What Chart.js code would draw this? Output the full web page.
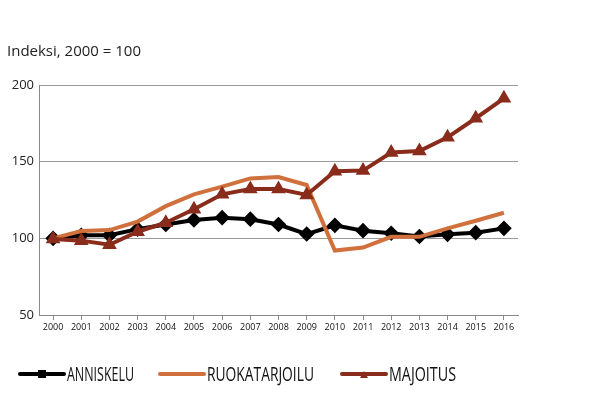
<!DOCTYPE html>
<html>
<head>
<meta charset="utf-8">
<script src="https://cdn.jsdelivr.net/npm/chart.js@4/dist/chart.umd.min.js"></script>
<style>
  html, body { margin: 0; padding: 0; background: #fff; }
  #wrap { width: 600px; height: 396px; position: relative; }
</style>
</head>
<body>
<div id="wrap"><canvas id="chart" width="600" height="396"></canvas></div>
<script>
var years = ['2000','2001','2002','2003','2004','2005','2006','2007','2008','2009','2010','2011','2012','2013','2014','2015','2016'];
var anniskelu = [100, 102, 102, 106, 109, 112, 113.5, 112.5, 109, 102.8, 108.5, 105, 103.3, 101.2, 102.6, 103.7, 106.5];
var ruokatarjoilu = [100, 104.8, 105.4, 110.9, 121, 128.7, 133.7, 139.1, 140, 134.8, 92, 94, 101, 101, 106.5, 111.5, 116.7];
var majoitus = [99.5, 98.5, 95.8, 104.3, 110.2, 119, 128.7, 132.2, 132.2, 128.3, 143.8, 144.2, 156, 157, 165.9, 178.3, 191.3];

var titleText = 'Indeksi, 2000 = 100';
var legendItems = [
  { label: 'ANNISKELU', color: '#000000', marker: 'square', x: 20, w: 67 },
  { label: 'RUOKATARJOILU', color: '#d0703c', marker: null, x: 160, w: 107 },
  { label: 'MAJOITUS', color: '#8a2c1c', marker: 'triangle', x: 342, w: 67 }
];

// title and legend drawn by hand to match the original layout
var extras = {
  id: 'extras',
  afterDraw: function (chart) {
    var ctx = chart.ctx;
    ctx.save();
    ctx.fillStyle = '#222';
    ctx.font = '15px "Open Sans"';
    ctx.textBaseline = 'middle';
    ctx.fillText(titleText, 7, 52);

    var y = 374;
    legendItems.forEach(function (it) {
      ctx.strokeStyle = it.color;
      ctx.lineWidth = 4;
      ctx.lineCap = 'round';
      ctx.beginPath();
      ctx.moveTo(it.x, y);
      ctx.lineTo(it.x + 44, y);
      ctx.stroke();
      ctx.fillStyle = it.color;
      if (it.marker == 'square') {
        ctx.fillRect(it.x + 18, y - 4, 8, 8);
      } else if (it.marker == 'triangle') {
        ctx.beginPath();
        ctx.moveTo(it.x + 22, y - 3);
        ctx.lineTo(it.x + 26, y + 4);
        ctx.lineTo(it.x + 18, y + 4);
        ctx.fill();
      }
      // narrow the text to the width used in the original
      ctx.fillStyle = '#111';
      ctx.font = '20px "Open Sans"';
      var tw = ctx.measureText(it.label).width;
      ctx.save();
      ctx.translate(it.x + 47, y + 1);
      ctx.scale(it.w / tw, 1);
      ctx.fillText(it.label, 0, 0);
      ctx.restore();
    });
    ctx.restore();
  }
};

var ctx = document.getElementById('chart').getContext('2d');
var chart = new Chart(ctx, {
  type: 'line',
  data: {
    labels: years,
    datasets: [
      {
        label: 'ANNISKELU',
        data: anniskelu,
        borderColor: '#000000',
        backgroundColor: '#000000',
        borderWidth: 4,
        pointStyle: 'rectRot',
        pointRadius: 5,
        order: 3,
        tension: 0
      },
      {
        label: 'RUOKATARJOILU',
        data: ruokatarjoilu,
        borderColor: '#d0703c',
        backgroundColor: '#d0703c',
        borderWidth: 4,
        pointRadius: 0,
        order: 2,
        tension: 0
      },
      {
        label: 'MAJOITUS',
        data: majoitus,
        borderColor: '#8a2c1c',
        backgroundColor: '#8a2c1c',
        borderWidth: 4,
        pointStyle: 'triangle',
        pointRadius: 4.5,
        order: 1,
        tension: 0
      }
    ]
  },
  options: {
    responsive: false,
    animation: false,
    layout: { padding: { top: 85, right: 82, bottom: 56, left: 0 } },
    plugins: {
      legend: { display: false },
      title: { display: false },
      tooltip: { enabled: false }
    },
    scales: {
      x: {
        offset: true,
        grid: { display: true, drawOnChartArea: false, drawTicks: true, tickLength: 5, color: '#888' },
        border: { color: '#888', width: 1 },
        ticks: { color: '#111', font: { family: 'Open Sans', size: 9 }, padding: 2, maxRotation: 0, autoSkip: false },
        afterFit: function (s) { s.height = 25; }
      },
      y: {
        min: 50,
        max: 200,
        ticks: { stepSize: 50, color: '#222', font: { family: 'Open Sans', size: 13 }, padding: 5 },
        grid: { color: '#999', drawTicks: false, lineWidth: 1 },
        border: { color: '#888', width: 1 },
        afterFit: function (s) { s.width = 39; }
      }
    }
  },
  plugins: [extras]
});
</script>
</body>
</html>
